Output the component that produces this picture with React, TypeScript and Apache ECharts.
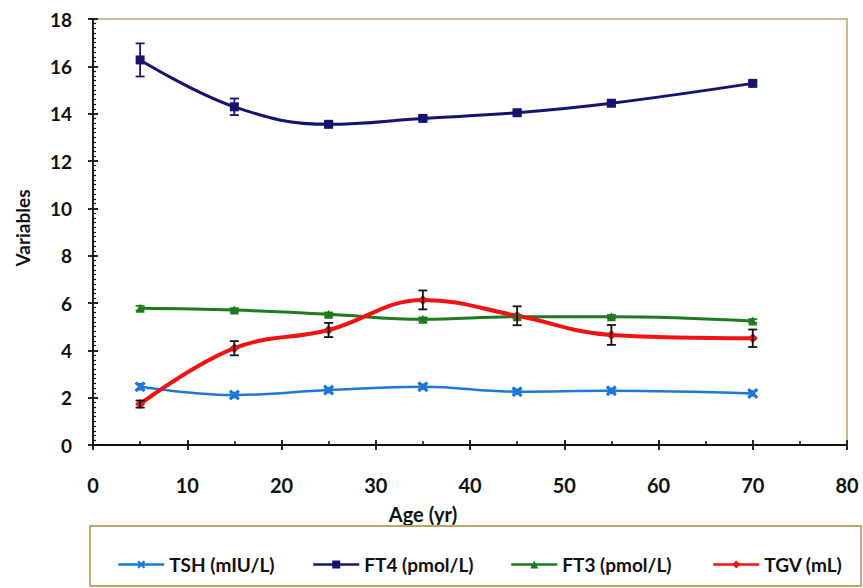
import React, { useEffect, useRef } from "react";
import * as echarts from "echarts";

const ages = [5, 15, 25, 35, 45, 55, 70];
const tshValues = [2.46, 2.11, 2.32, 2.46, 2.25, 2.29, 2.18];
const tshErrors = [0.12, 0.1, 0.1, 0.1, 0.1, 0.1, 0.1];
const ft4Values = [16.27, 14.29, 13.55, 13.8, 14.04, 14.44, 15.28];
const ft4Errors = [0.7, 0.35, 0.1, 0.1, 0.1, 0.1, 0.1];
const ft3Values = [5.78, 5.7, 5.52, 5.31, 5.42, 5.42, 5.24];
const ft3Errors = [0.1, 0.08, 0.08, 0.08, 0.08, 0.08, 0.08];
const tgvValues = [1.73, 4.09, 4.86, 6.13, 5.46, 4.65, 4.51];
const tgvErrors = [0.15, 0.3, 0.3, 0.4, 0.4, 0.42, 0.37];
const seriesNames = ["TSH (mIU/L)", "FT4 (pmol/L)", "FT3 (pmol/L)", "TGV (mL)"];
const xAxisTitle = "Age (yr)";
const yAxisTitle = "Variables";

const FONT = "Lato, 'Open Sans', sans-serif";
const GOLD = "#b9a46a";

const X_SYMBOL =
  "path://M0,2 L2,0 L5,3 L8,0 L10,2 L7,5 L10,8 L8,10 L5,7 L2,10 L0,8 L3,5 Z";

function pairs(values: number[]) {
  return ages.map((a, i) => [a, values[i]]);
}

function errData(values: number[], errs: number[]) {
  return ages.map((a, i) => [a, values[i] - errs[i], values[i] + errs[i]]);
}

function errorSeries(values: number[], errs: number[], color: string) {
  return {
    type: "custom",
    xAxisIndex: 0,
    yAxisIndex: 0,
    z: 5,
    silent: true,
    encode: { x: 0, y: [1, 2] },
    data: errData(values, errs),
    renderItem: (params: any, api: any) => {
      const x = api.value(0);
      const lo = api.coord([x, api.value(1)]);
      const hi = api.coord([x, api.value(2)]);
      const w = 4.5;
      const style = { stroke: color, lineWidth: 1.8 };
      return {
        type: "group",
        children: [
          { type: "line", shape: { x1: lo[0], y1: lo[1], x2: hi[0], y2: hi[1] }, style },
          { type: "line", shape: { x1: lo[0] - w, y1: lo[1], x2: lo[0] + w, y2: lo[1] }, style },
          { type: "line", shape: { x1: hi[0] - w, y1: hi[1], x2: hi[0] + w, y2: hi[1] }, style },
        ],
      };
    },
  };
}

const colors = ["#1b78d6", "#14146e", "#1d7a1d", "#f21212"];

export default function App() {
  const ref = useRef<HTMLDivElement>(null);
  useEffect(() => {
    if (!ref.current) return;
    const chart = echarts.init(ref.current, undefined, { renderer: "svg" });
    const legendLefts = [112, 307, 505, 707];
    const option: any = {
      animation: false,
      backgroundColor: "#ffffff",
      textStyle: { fontFamily: FONT },
      grid: {
        left: 93,
        right: 16,
        top: 19,
        bottom: 143,
        show: true,
        borderColor: GOLD,
        borderWidth: 1.5,
        backgroundColor: "#ffffff",
      },
      legend: seriesNames.map((n, i) => ({
        data: [n],
        left: legendLefts[i],
        top: 550,
        itemWidth: 46,
        itemHeight: 10,
        itemGap: 0,
        lineStyle: { width: 2.5 },
        textStyle: { fontFamily: FONT, fontWeight: "bold", fontSize: 19, color: "#111" },
        selectedMode: false,
      })),
      xAxis: [
        {
          type: "value",
          min: 0,
          max: 80,
          interval: 10,
          axisLine: { show: true, lineStyle: { color: "#111", width: 1.8 } },
          axisTick: { show: true, inside: true, length: 5, lineStyle: { color: "#111", width: 1.8 } },
          minorTick: { show: true, splitNumber: 2, length: 4, lineStyle: { color: "#111", width: 1.5 } },
          splitLine: { show: false },
          axisLabel: {
            margin: 30,
            fontFamily: FONT,
            fontWeight: "bold",
            fontSize: 20,
            color: "#111",
          },
        },
        {
          type: "value",
          min: 0,
          max: 80,
          interval: 10,
          position: "bottom",
          axisLine: { show: false },
          axisTick: { show: true, inside: false, length: 5, lineStyle: { color: "#111", width: 1.8 } },
          axisLabel: { show: false },
          splitLine: { show: false },
        },
      ],
      yAxis: [
        {
          type: "value",
          min: 0,
          max: 18,
          interval: 2,
          axisLine: { show: true, lineStyle: { color: "#111", width: 1.8 } },
          axisTick: { show: true, inside: true, length: 5, lineStyle: { color: "#111", width: 1.8 } },
          minorTick: { show: true, splitNumber: 10, length: 3, lineStyle: { color: "#111", width: 1.2 } },
          splitLine: { show: false },
          axisLabel: {
            margin: 21,
            fontFamily: FONT,
            fontWeight: "bold",
            fontSize: 19,
            color: "#111",
          },
        },
        {
          type: "value",
          min: 0,
          max: 18,
          interval: 2,
          position: "left",
          axisLine: { show: false },
          axisTick: { show: true, inside: false, length: 5, lineStyle: { color: "#111", width: 1.8 } },
          axisLabel: { show: false },
          splitLine: { show: false },
        },
      ],
      graphic: [
        {
          type: "rect",
          shape: { x: 90, y: 526, width: 771, height: 60 },
          style: { fill: "none", stroke: GOLD, lineWidth: 1.8 },
          z: 1,
        },
        {
          type: "text",
          x: 423,
          y: 514,
          style: {
            text: xAxisTitle,
            fontFamily: FONT,
            fontWeight: "bold",
            fontSize: 20,
            fill: "#111",
            align: "center",
            verticalAlign: "middle",
          },
        },
        {
          type: "text",
          x: 22,
          y: 228,
          rotation: Math.PI / 2,
          style: {
            text: yAxisTitle,
            fontFamily: FONT,
            fontWeight: "bold",
            fontSize: 19,
            fill: "#111",
            align: "center",
            verticalAlign: "middle",
          },
        },
      ],
      series: [
        {
          name: seriesNames[0],
          type: "line",
          smooth: 0.4,
          data: pairs(tshValues),
          symbol: X_SYMBOL,
          symbolSize: 11,
          lineStyle: { color: colors[0], width: 2.5 },
          itemStyle: { color: colors[0] },
          z: 3,
        },
        {
          name: seriesNames[1],
          type: "line",
          smooth: 0.4,
          data: pairs(ft4Values),
          symbol: "rect",
          symbolSize: 9,
          lineStyle: { color: colors[1], width: 3 },
          itemStyle: { color: colors[1] },
          z: 3,
        },
        {
          name: seriesNames[2],
          type: "line",
          smooth: 0.4,
          data: pairs(ft3Values),
          symbol: "triangle",
          symbolSize: 9,
          lineStyle: { color: colors[2], width: 3 },
          itemStyle: { color: colors[2] },
          z: 3,
        },
        {
          name: seriesNames[3],
          type: "line",
          smooth: 0.4,
          data: pairs(tgvValues),
          symbol: "diamond",
          symbolSize: 10,
          lineStyle: { color: colors[3], width: 4 },
          itemStyle: { color: colors[3] },
          z: 4,
        },
        errorSeries(tshValues, tshErrors, colors[0]),
        errorSeries(ft4Values, ft4Errors, colors[1]),
        errorSeries(ft3Values, ft3Errors, colors[2]),
        errorSeries(tgvValues, tgvErrors, "#111111"),
      ],
    };
    chart.setOption(option);
    return () => chart.dispose();
  }, []);
  return <div ref={ref} style={{ width: 863, height: 588, position: "absolute", left: 0, top: 0 }} />;
}
